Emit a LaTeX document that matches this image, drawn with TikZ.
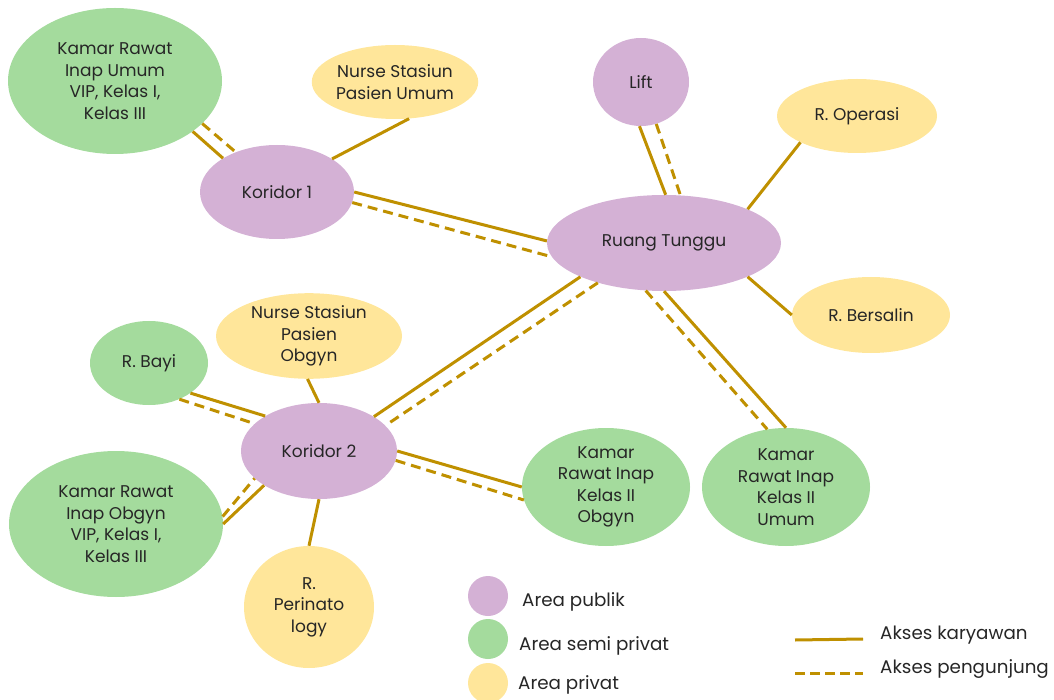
\documentclass[tikz,border=0pt]{standalone}
\usepackage{fontspec}
\setmainfont{Poppins}
\usetikzlibrary{shapes.geometric}
\definecolor{pubcol}{HTML}{D4B1D5}
\definecolor{semicol}{HTML}{A4DB9D}
\definecolor{privcol}{HTML}{FFE69A}
\definecolor{linkcol}{HTML}{BF9000}
\tikzset{
  room/.style={ellipse, inner sep=0pt, align=center, text=black!85,
    font=\fontsize{17}{21.5}\selectfont},
  pub/.style={room, fill=pubcol},
  semi/.style={room, fill=semicol},
  priv/.style={room, fill=privcol},
  staff/.style={draw=linkcol, line width=3pt},
  visitor/.style={draw=linkcol, line width=3pt, dash pattern=on 10pt off 6pt},
  keytext/.style={anchor=west, inner sep=0pt, text=black!85,
    font=\fontsize{18.3}{20}\selectfont}
}
\begin{document}
\begin{tikzpicture}[x=1pt,y=-1pt]
\useasboundingbox (0,0) rectangle (1054,700);

% rooms and corridors
\node[semi, minimum width=214pt, minimum height=146pt] (KU) at (115,81)
  {Kamar Rawat\\Inap Umum\\VIP, Kelas I,\\Kelas III};
\node[priv, minimum width=164pt, minimum height=74pt] (NU) at (395,82)
  {Nurse Stasiun\\Pasien Umum};
\node[pub, minimum width=154pt, minimum height=94pt] (K1) at (277,192) {Koridor 1};
\node[pub, minimum width=96pt, minimum height=88pt] (LF) at (641,82) {Lift};
\node[priv, minimum width=160pt, minimum height=74pt] (RO) at (857,116) {R. Operasi};
\node[pub, minimum width=234pt, minimum height=96pt] (RT) at (664,243) {Ruang Tunggu};
\node[priv, minimum width=158pt, minimum height=76pt] (RB) at (871,315) {R. Bersalin};
\node[priv, minimum width=186pt, minimum height=74pt] (NO) at (309,336)
  {Nurse Stasiun\\Pasien\\Obgyn};
\node[semi, minimum width=118pt, minimum height=84pt] (BY) at (149,363) {R. Bayi};
\node[pub, minimum width=156pt, minimum height=96pt] (K2) at (319,451) {Koridor 2};
\node[semi, minimum width=214pt, minimum height=146pt] (KO) at (116,524)
  {Kamar Rawat\\Inap Obgyn\\VIP, Kelas I,\\Kelas III};
\node[priv, minimum width=130pt, minimum height=122pt] (PR) at (309,607)
  {R.\\Perinato\\logy};
\node[semi, minimum width=168pt, minimum height=118pt] (KIIO) at (606,487)
  {Kamar\\Rawat Inap\\Kelas II\\Obgyn};
\node[semi, minimum width=168pt, minimum height=118pt] (KIIU) at (786,487)
  {Kamar\\Rawat Inap\\Kelas II\\Umum};

% staff access (solid) and visitor access (dashed)
\draw[staff]   (KU.-33.9) -- (K1.148.1);
\draw[visitor] (KU.-26.8) -- (K1.136.5);
\draw[staff]   (NU.-69.3) -- (K1.31.7);
\draw[staff]   (K1.0) -- (RT.179);
\draw[visitor] (K1.-8.9) -- (RT.187.5);
\draw[staff]   (LF.268.7) -- (RT.88.8);
\draw[visitor] (LF.-70.8) -- (RT.71.2);
\draw[staff]   (RO.205.3) -- (RT.22.3);
\draw[staff]   (RT.-22.3) -- (RB.180.7);
\draw[staff]   (RT.202.8) -- (K2.32.2);
\draw[visitor] (RT.211.7) -- (K2.21.5);
\draw[staff]   (RT.-90) -- (KIIU.90);
\draw[visitor] (RT.-111.1) -- (KIIU.108.4);
\draw[staff]   (K2.0) -- (KIIO.180);
\draw[visitor] (K2.-7.8) -- (KIIO.189.6);
\draw[staff]   (BY.-36.2) -- (K2.147.8);
\draw[visitor] (BY.-50.2) -- (K2.157.4);
\draw[staff]   (NO.268.4) -- (K2.90);
\draw[staff]   (KO.0) -- (K2.212.2);
\draw[visitor] (KO.4) -- (K2.203.9);
\draw[staff]   (K2.-90) -- (PR.90);

% legend
\node[circle, fill=pubcol, minimum size=40pt, inner sep=0pt] (LgPub) at (488,596) {};
\node[circle, fill=semicol, minimum size=40pt, inner sep=0pt] (LgSemi) at (488,639) {};
\node[circle, fill=privcol, minimum size=40pt, inner sep=0pt] (LgPriv) at (488,683) {};
\node[keytext] (TPub) at (522,602) {Area publik};
\node[keytext] (TSemi) at (519,646) {Area semi privat};
\node[keytext] (TPriv) at (518,685) {Area privat};
\coordinate (LsA) at (795,640);
\coordinate (LsB) at (863,639);
\coordinate (LdA) at (795,673);
\coordinate (LdB) at (863,673);
\draw[staff] (LsA) -- (LsB);
\draw[linkcol, line width=3pt, dash pattern=on 10pt off 5pt] (LdA) -- (LdB);
\node[keytext] (TStaff) at (880,635) {Akses karyawan};
\node[keytext] (TVisit) at (880,669) {Akses pengunjung};
\end{tikzpicture}
\end{document}
